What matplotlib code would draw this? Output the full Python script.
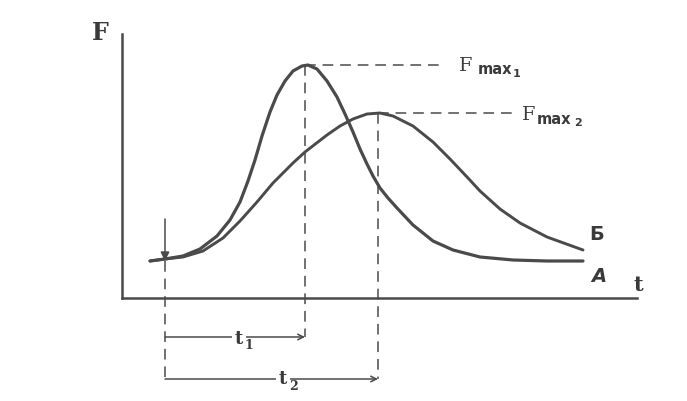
import matplotlib
matplotlib.use("Agg")
import matplotlib.pyplot as plt

# curve A (sharp peak) and curve B (wide peak)
t_a = [28, 43, 61, 78, 95, 108, 118, 126, 133, 140, 148, 155, 163, 171, 180,
       186, 195, 205, 215, 223, 231, 238, 245, 251, 258, 266, 275, 291, 311,
       331, 358, 391, 425, 461]
f_a = [37, 39, 42, 49, 62, 78, 96, 117, 138, 162, 186, 203, 217, 227, 232,
       233, 229, 217, 201, 184, 166, 149, 134, 122, 110, 100, 90, 73, 57,
       48, 41, 38, 37, 37]

t_b = [28, 43, 61, 81, 101, 118, 135, 151, 171, 183, 205, 218, 231, 245, 258,
       271, 291, 311, 328, 346, 358, 378, 398, 425, 461]
f_b = [37, 39, 41, 47, 60, 77, 96, 115, 135, 146, 163, 172, 179, 184, 185,
       182, 172, 156, 139, 120, 107, 89, 75, 61, 48]

t_start = 43
t1, fmax1 = 183, 233
t2, fmax2 = 256, 185

ink = "#4a4a4a"
dash = (0, (7, 4.5))

fig = plt.figure(figsize=(6.87, 4.02), dpi=100)
ax = fig.add_axes([122/687, 103/402, 515/687, 264/402])
ax.set_xlim(0, 515)
ax.set_ylim(0, 264)
for s in ["top", "right"]:
    ax.spines[s].set_visible(False)
for s in ["left", "bottom"]:
    ax.spines[s].set_color(ink)
    ax.spines[s].set_linewidth(1.8)
ax.set_xticks([])
ax.set_yticks([])

ax.plot(t_a, f_a, color=ink, lw=2.3, solid_joinstyle="round", solid_capstyle="round")
ax.plot(t_b, f_b, color=ink, lw=2.1, solid_joinstyle="round", solid_capstyle="round")

# dashed guide lines
kw = dict(color=ink, lw=1.1, ls=dash, clip_on=False)
ax.plot([t1, t1], [fmax1, -39], **kw)
ax.plot([t2, t2], [fmax2, -81], **kw)
ax.plot([t_start, t_start], [37, -83], **kw)
ax.plot([t1, 323], [fmax1, fmax1], **kw)
ax.plot([t2, 390], [fmax2, fmax2], **kw)

# start arrow
ax.annotate("", xy=(t_start, 37), xytext=(t_start, 79),
            arrowprops=dict(arrowstyle="-|>", color=ink, lw=1.1,
                            mutation_scale=13, shrinkA=0, shrinkB=0),
            annotation_clip=False)

# time intervals
for tt, yy in [(t1, -39), (t2, -81)]:
    ax.annotate("", xy=(tt, yy), xytext=(t_start, yy),
                arrowprops=dict(arrowstyle="->", color=ink, lw=1.1,
                                mutation_scale=10, shrinkA=0, shrinkB=0),
                annotation_clip=False)

serif = "DejaVu Serif"
txt = dict(color="#3a3a3a", clip_on=False)
bg = dict(facecolor="white", edgecolor="none", pad=2)

ax.text(117, -40, "t", fontsize=13, family=serif, weight="bold", ha="center",
        va="center", bbox=bg, **txt)
ax.text(127, -47, "1", fontsize=9, family=serif, weight="bold", ha="center",
        va="center", **txt)
ax.text(161, -80, "t", fontsize=13, family=serif, weight="bold", ha="center",
        va="center", bbox=bg, **txt)
ax.text(171, -88, "2", fontsize=9, family=serif, weight="bold", ha="center",
        va="center", **txt)

ax.text(-22, 266, "F", fontsize=17, family=serif, weight="bold", ha="center",
        va="center", **txt)
ax.text(516, 14, "t", fontsize=15, family=serif, weight="bold", ha="center",
        va="center", **txt)

ax.text(344, 233, "F", fontsize=14, family=serif, ha="center", va="center", **txt)
ax.text(373, 229, "max", fontsize=10.5, weight="bold", ha="center", va="center", **txt)
ax.text(395, 225, "1", fontsize=8, weight="bold", ha="center", va="center", **txt)

ax.text(407, 184, "F", fontsize=14, family=serif, ha="center", va="center", **txt)
ax.text(432, 180, "max", fontsize=10.5, weight="bold", ha="center", va="center", **txt)
ax.text(456, 176, "2", fontsize=8, weight="bold", ha="center", va="center", **txt)

ax.text(475, 64, "Б", fontsize=14, weight="bold", ha="center", va="center", **txt)
ax.text(477, 22, "A", fontsize=14, weight="bold", style="italic", ha="center",
        va="center", **txt)

fig.savefig("out.png", dpi=100, facecolor="white")
